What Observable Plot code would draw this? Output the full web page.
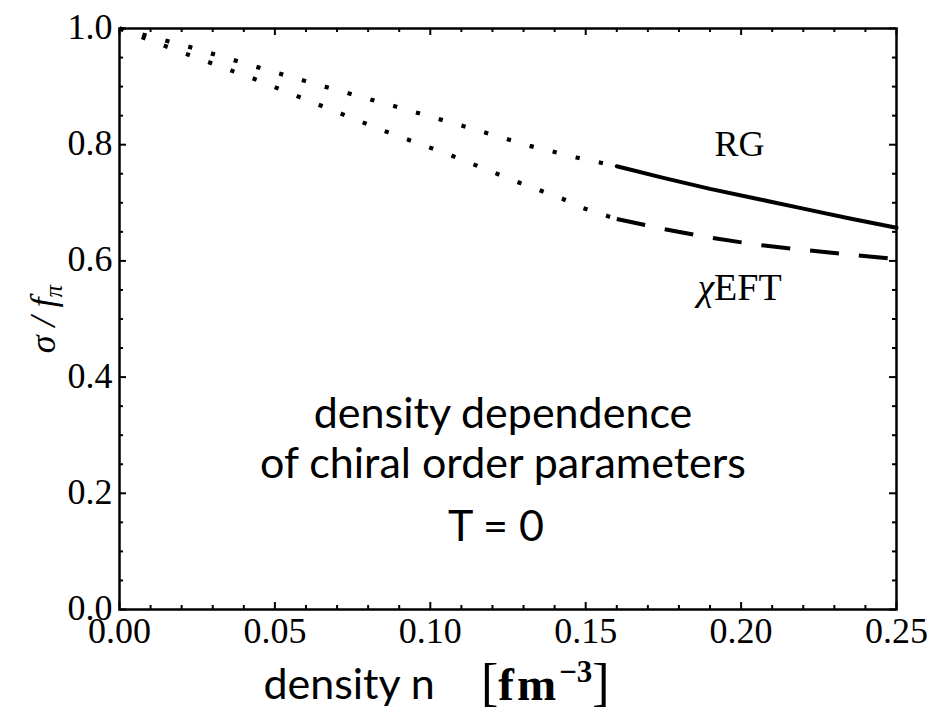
<!DOCTYPE html>
<html><head><meta charset="utf-8">
<script src="https://cdn.jsdelivr.net/npm/d3@7"></script>
<script src="https://cdn.jsdelivr.net/npm/@observablehq/plot@0.6"></script>
<style>html,body{margin:0;padding:0;background:#fff;}</style>
</head><body><div id="chart"></div>
<script>
// ---- data ----
const xMajorTicks = [0, 0.05, 0.10, 0.15, 0.20, 0.25];
const xTickLabels = ["0.00", "0.05", "0.10", "0.15", "0.20", "0.25"];
const xMinorTicks = [0.01, 0.02, 0.03, 0.04, 0.06, 0.07, 0.08, 0.09, 0.11, 0.12, 0.13, 0.14, 0.16, 0.17, 0.18, 0.19, 0.21, 0.22, 0.23, 0.24];
const yMajorTicks = [0, 0.2, 0.4, 0.6, 0.8, 1.0];
const yTickLabels = ["0.0", "0.2", "0.4", "0.6", "0.8", "1.0"];
const yMinorTicks = [0.05, 0.1, 0.15, 0.25, 0.3, 0.35, 0.45, 0.5, 0.55, 0.65, 0.7, 0.75, 0.85, 0.9, 0.95];

// RG: dotted extrapolation below n = 0.16, solid above
const rgDottedX = [0, 0.022, 0.044, 0.066, 0.088, 0.110, 0.132, 0.147, 0.160];
const rgDottedY = [1.0, 0.969, 0.934, 0.900, 0.867, 0.833, 0.798, 0.778, 0.763];
const rgSolidX = [0.160, 0.175, 0.190, 0.205, 0.220, 0.235, 0.250];
const rgSolidY = [0.763, 0.743, 0.724, 0.707, 0.690, 0.673, 0.657];

// chiral EFT: dotted extrapolation below n = 0.16, dashed above
const eftDottedX = [0, 0.021, 0.043, 0.064, 0.085, 0.107, 0.128, 0.1425, 0.149, 0.160];
const eftDottedY = [1.0, 0.957, 0.914, 0.869, 0.824, 0.781, 0.736, 0.707, 0.691, 0.672];
const eftDashedX = [0.160, 0.175, 0.190, 0.205, 0.220, 0.235, 0.250];
const eftDashedY = [0.672, 0.655, 0.640, 0.628, 0.619, 0.611, 0.603];

const seriesNames = ["RG", "χEFT"];
const annotationLines = ["density dependence", "of chiral order parameters", "T = 0"];
const xLabelText = "density n";
const xUnitText = "[fm−3]";
const yLabelText = "σ / fπ";

// ---- layout ----
const W = 930, H = 710;
const mL = 119, mR = 34, mT = 28, mB = 101;
const plotH = H - mT - mB;
const plotW = W - mL - mR;
const serif = "'Liberation Serif', 'DejaVu Serif', serif";
const sans = "Lato, 'Open Sans', sans-serif";

const pts = (xs, ys) => xs.map((x, i) => ({x, y: ys[i]}));
const id = d => d;

const chart = Plot.plot({
  width: W, height: H,
  marginLeft: mL, marginRight: mR, marginTop: mT, marginBottom: mB,
  x: {domain: [0, 0.25], axis: null},
  y: {domain: [0, 1], axis: null},
  style: {fontFamily: serif, color: "black", background: "white"},
  marks: [
    // curves
    Plot.line(pts(rgDottedX, rgDottedY), {x: "x", y: "y", stroke: "black", strokeWidth: 4.2, strokeDasharray: "4.2,19.5", strokeLinecap: "butt"}),
    Plot.line(pts(eftDottedX, eftDottedY), {x: "x", y: "y", stroke: "black", strokeWidth: 4.2, strokeDasharray: "4.2,19.5", strokeLinecap: "butt"}),
    Plot.line(pts(rgSolidX, rgSolidY), {x: "x", y: "y", stroke: "black", strokeWidth: 4}),
    Plot.line(pts(eftDashedX, eftDashedY), {x: "x", y: "y", stroke: "black", strokeWidth: 4, strokeDasharray: "29,20", strokeLinecap: "butt"}),
    // inward ticks, all four sides
    Plot.tickX(xMajorTicks, {x: id, insetTop: plotH - 7, strokeWidth: 2}),
    Plot.tickX(xMinorTicks, {x: id, insetTop: plotH - 4, strokeWidth: 2}),
    Plot.tickX(xMajorTicks, {x: id, insetBottom: plotH - 7, strokeWidth: 2}),
    Plot.tickX(xMinorTicks, {x: id, insetBottom: plotH - 4, strokeWidth: 2}),
    Plot.tickY(yMajorTicks, {y: id, insetRight: plotW - 7, strokeWidth: 2}),
    Plot.tickY(yMinorTicks, {y: id, insetRight: plotW - 4, strokeWidth: 2}),
    Plot.tickY(yMajorTicks, {y: id, insetLeft: plotW - 7, strokeWidth: 2}),
    Plot.tickY(yMinorTicks, {y: id, insetLeft: plotW - 4, strokeWidth: 2}),
    Plot.frame({stroke: "black", strokeWidth: 2.5}),
    // tick labels
    Plot.text(xMajorTicks, {x: id, text: d => xTickLabels[xMajorTicks.indexOf(d)], frameAnchor: "bottom",
      textAnchor: "middle", lineAnchor: "top", dy: 8, fontSize: 36, fontFamily: serif}),
    Plot.text(yMajorTicks, {y: id, text: d => yTickLabels[yMajorTicks.indexOf(d)], frameAnchor: "left",
      textAnchor: "end", lineAnchor: "middle", dx: -7, dy: -1, fontSize: 36, fontFamily: serif}),
    // series labels
    Plot.text([seriesNames[0]], {x: 0.1995, y: 0.781, textAnchor: "middle", lineAnchor: "bottom", fontSize: 36, fontFamily: serif}),
    Plot.text([seriesNames[1]], {x: 0.1995, y: 0.532, textAnchor: "middle", lineAnchor: "bottom", fontSize: 38, fontFamily: serif}),
    // annotation
    Plot.text([annotationLines[0]], {frameAnchor: "bottom", dx: -5, dy: -182, textAnchor: "middle", lineAnchor: "bottom", fontSize: 43, fontFamily: sans}),
    Plot.text([annotationLines[1]], {frameAnchor: "bottom", dx: -5, dy: -132, textAnchor: "middle", lineAnchor: "bottom", fontSize: 43, fontFamily: sans}),
    Plot.text([annotationLines[2]], {frameAnchor: "bottom", dx: -12, dy: -69, textAnchor: "middle", lineAnchor: "bottom", fontSize: 43, fontFamily: sans}),
    // axis titles
    Plot.text([xLabelText], {frameAnchor: "bottom", dx: -159, dy: 89, textAnchor: "middle", lineAnchor: "bottom", fontSize: 43, fontFamily: sans}),
    Plot.text([xUnitText], {frameAnchor: "bottom", dx: -27, dy: 90, textAnchor: "start", lineAnchor: "bottom", fontSize: 44, fontFamily: serif}),
    Plot.text([yLabelText], {frameAnchor: "left", dx: -76, rotate: -90, textAnchor: "middle", lineAnchor: "middle", fontSize: 36, fontFamily: serif, fontStyle: "italic"})
  ]
});

const root = d3.select(chart);
// rich-text fixes (sub/superscripts, italic chi)
root.selectAll("text").each(function () {
  const s = this.textContent;
  const t = d3.select(this);
  if (s === yLabelText) {
    t.text(null);
    t.append("tspan").text("σ / f");
    t.append("tspan").attr("font-size", 25).attr("dy", 7).text("π");
  } else if (s === xUnitText) {
    t.text(null);
    t.append("tspan").attr("font-size", 52).attr("font-weight", "normal").text("[");
    t.append("tspan").attr("font-weight", "bold").attr("font-size", 47)
      .attr("letter-spacing", 3).text("fm");
    t.append("tspan").attr("font-weight", "bold").attr("font-size", 31).attr("dy", -18).text("−3");
    t.append("tspan").attr("font-size", 52).attr("font-weight", "normal").attr("dy", 18).text("]");
  } else if (s === seriesNames[1]) {
    t.text(null);
    t.append("tspan").attr("font-style", "italic").text("χ");
    t.append("tspan").text("EFT");
  }
});

document.getElementById("chart").appendChild(chart);
</script>
</body></html>
